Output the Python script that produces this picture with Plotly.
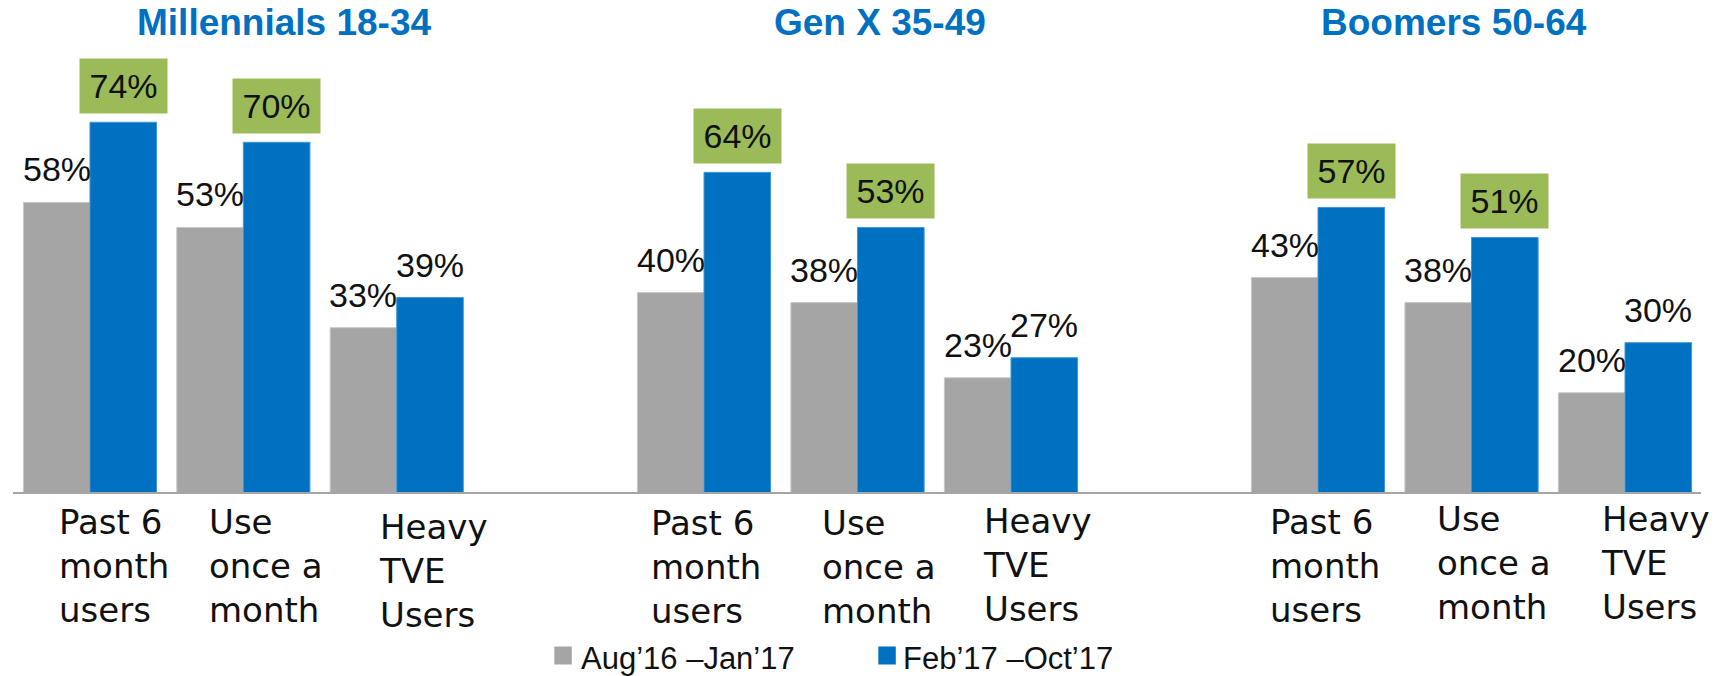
import plotly.graph_objects as go

# ---- data ----
PANELS = ["Millennials 18-34", "Gen X 35-49", "Boomers 50-64"]
CATEGORY_LINES = [["Past 6", "month", "users"],
                  ["Use", "once a", "month"],
                  ["Heavy", "TVE", "Users"]]
SERIES = ["Aug\u201916 \u2013Jan\u201917", "Feb\u201917 \u2013Oct\u201917"]
EARLIER = [[58, 53, 33], [40, 38, 23], [43, 38, 20]]
LATER = [[74, 70, 39], [64, 53, 27], [57, 51, 30]]
HIGHLIGHT = [True, True, False]

# ---- style ----
W, H = 1733, 676
GRAY, BLUE, GREEN, AXIS = "#A5A5A5", "#0070C0", "#9BBB59", "#A6A6A6"
SERIES_COLORS = [GRAY, BLUE]
TITLE_COLOR = "#0070C0"
BAR_W = 0.434
# pixel extents of each panel's category axis
PANEL_PX = [(13.3, 473.4), (627.25, 1087.75), (1241.25, 1701.75)]
TITLE_CX = [283.5, 880, 1453.5]
BOX_W, BOX_H = 87, 54
LABEL_DX = [[-33, -36, -19.5], [-54.7, -37.7, -30], [-50, -37, -25.6]]
LABEL_BASE = [[40, 40, 45], [41, 41, 39], [40, 37, 37]]
PX_PER_PCT = 5.01
BASE_Y = 493

# legend swatches / texts (pixel positions, left edges)
LEG_SWATCH_X = [554.3, 878.3]
LEG_TEXT_X = [579, 901]
LEG_SWATCH_Y = (646.5, 664.5)
LEG_BASELINE = 668

NUM_FONT = "Liberation Sans, Arial, sans-serif"
CAT_FONT = "DejaVu Sans, sans-serif"
TITLE_FONT = "Liberation Sans, Arial, sans-serif"
CAT_SIZE = 34
LEG_SIZE = 31

y_hi = BASE_Y / PX_PER_PCT
y_lo = y_hi - H / PX_PER_PCT

fig = go.Figure()
annotations = []
shapes = []
xs = [0, 1, 2]

for p, name in enumerate(PANELS):
    ax = "x" if p == 0 else f"x{p + 1}"
    fig.add_trace(go.Bar(
        x=xs, y=EARLIER[p], offset=-BAR_W, width=BAR_W,
        marker=dict(color=GRAY, line=dict(color="#C8C8C8", width=1)),
        name=SERIES[0], showlegend=False, xaxis=ax, yaxis="y"))
    fig.add_trace(go.Bar(
        x=xs, y=LATER[p], offset=0, width=BAR_W,
        marker=dict(color=BLUE, line=dict(color="#3F95D8", width=1)),
        name=SERIES[1], showlegend=False, xaxis=ax, yaxis="y"))

    # panel title
    annotations.append(dict(
        text=name, xref="paper", yref="paper", x=TITLE_CX[p] / W, y=1,
        xanchor="center", yanchor="top", yshift=0, showarrow=False,
        font=dict(family=TITLE_FONT, size=37, color=TITLE_COLOR, weight="bold")))

    for i in xs:
        # earlier-period value label
        annotations.append(dict(
            text=f"{EARLIER[p][i]}%", xref=ax, yref="y",
            x=i - BAR_W / 2, y=EARLIER[p][i], xanchor="center", yanchor="bottom",
            yshift=12, showarrow=False,
            font=dict(family=NUM_FONT, size=34, color="#111111")))
        # later-period value label (boxed when highlighted)
        lab = dict(
            text=f"{LATER[p][i]}%", xref=ax, yref="y",
            x=i + BAR_W / 2, y=LATER[p][i], xanchor="center", yanchor="bottom",
            showarrow=False, font=dict(family=NUM_FONT, size=34, color="#111111"))
        if HIGHLIGHT[i]:
            lab.update(bgcolor=GREEN, borderpad=0, width=BOX_W, height=BOX_H,
                       yshift=8)
        else:
            lab.update(yshift=12)
        annotations.append(lab)

        # category label, left aligned block under the pair of bars
        annotations.append(dict(
            text="<br>".join(CATEGORY_LINES[i]), xref=ax, yref="y", x=i, y=0,
            xanchor="left", yanchor="top", xshift=LABEL_DX[p][i],
            yshift=-(LABEL_BASE[p][i] - 32.6),
            showarrow=False, align="left",
            font=dict(family=CAT_FONT, size=CAT_SIZE, color="#111111")))

# legend: colour swatch + series name below the panels
for s, name in enumerate(SERIES):
    x0 = LEG_SWATCH_X[s]
    shapes.append(dict(type="rect", xref="paper", yref="paper",
                       x0=x0 / W, x1=(x0 + 17.5) / W,
                       y0=1 - LEG_SWATCH_Y[1] / H, y1=1 - LEG_SWATCH_Y[0] / H,
                       fillcolor=SERIES_COLORS[s], line=dict(width=0)))
    top = LEG_BASELINE - 1 - 0.905 * LEG_SIZE
    annotations.append(dict(
        text=name, xref="paper", yref="paper", x=LEG_TEXT_X[s] / W,
        y=1 - top / H, xanchor="left", yanchor="top", showarrow=False,
        font=dict(family=NUM_FONT, size=LEG_SIZE, color="#111111")))

# baseline across all three panels
shapes.append(dict(type="line", xref="paper", yref="y",
                   x0=13 / W, x1=1701 / W, y0=0, y1=0,
                   line=dict(color=AXIS, width=2)))

layout_axes = {}
for p in range(3):
    key = "xaxis" if p == 0 else f"xaxis{p + 1}"
    x0, x1 = PANEL_PX[p]
    layout_axes[key] = dict(domain=[x0 / W, x1 / W], range=[-0.5, 2.5],
                            visible=False, anchor="y", fixedrange=True)

fig.update_layout(
    width=W, height=H,
    margin=dict(l=0, r=0, t=0, b=0),
    paper_bgcolor="white", plot_bgcolor="white",
    barmode="overlay",
    yaxis=dict(range=[y_lo, y_hi], visible=False, domain=[0, 1], fixedrange=True),
    annotations=annotations,
    shapes=shapes,
    showlegend=False,
    **layout_axes,
)

fig.write_html("out.html")
